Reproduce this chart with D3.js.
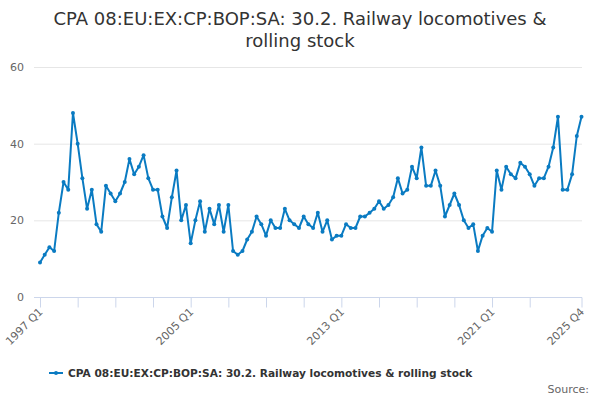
<!DOCTYPE html>
<html>
<head>
<meta charset="utf-8">
<script src="https://cdn.jsdelivr.net/npm/d3@7"></script>
<style>
  body { margin: 0; background: #fff; }
  svg { font-family: "DejaVu Sans", sans-serif; }
</style>
</head>
<body>
<script>
// quarterly values, 1997 Q1 .. 2025 Q4
var years = d3.range(1997, 2026);
var quarters = ["Q1", "Q2", "Q3", "Q4"];
var categories = [];
years.forEach(function (y) { quarters.forEach(function (q) { categories.push(y + " " + q); }); });

var values = [
  9, 11, 13, 12, 22, 30, 28, 48, 40, 31, 23, 28, 19, 17, 29, 27,
  25, 27, 30, 36, 32, 34, 37, 31, 28, 28, 21, 18, 26, 33, 20, 24,
  14, 20, 25, 17, 23, 19, 24, 17, 24, 12, 11, 12, 15, 17, 21, 19,
  16, 20, 18, 18, 23, 20, 19, 18, 21, 19, 18, 22, 17, 20, 15, 16,
  16, 19, 18, 18, 21, 21, 22, 23, 25, 23, 24, 26, 31, 27, 28, 34,
  31, 39, 29, 29, 33, 29, 21, 24, 27, 24, 20, 18, 19, 12, 16, 18,
  17, 33, 28, 34, 32, 31, 35, 34, 32, 29, 31, 31, 34, 39, 47, 28,
  28, 32, 42, 47
];

var yTicks = [0, 20, 40, 60];
var xLabels = ["1997 Q1", "2005 Q1", "2013 Q1", "2021 Q1", "2025 Q4"];
var seriesName = "CPA 08:EU:EX:CP:BOP:SA: 30.2. Railway locomotives & rolling stock";

var width = 600, height = 400;
var svg = d3.select("body").append("svg")
  .attr("width", width)
  .attr("height", height);

var x = d3.scalePoint().domain(categories).range([40, 581.5]);
var y = d3.scaleLinear().domain([0, 60]).range([297, 67]);

// title
var title = svg.append("text")
  .attr("text-anchor", "middle")
  .attr("fill", "#333")
  .style("font-size", "18px");
title.append("tspan").attr("x", 300).attr("y", 25).text("CPA 08:EU:EX:CP:BOP:SA: 30.2. Railway locomotives &");
title.append("tspan").attr("x", 300).attr("y", 47).text("rolling stock");

// gridlines
svg.append("g").selectAll("line")
  .data(yTicks.filter(function (d) { return d > 0; }))
  .enter().append("line")
  .attr("x1", 34).attr("x2", 582)
  .attr("y1", function (d) { return y(d) + 0.5; })
  .attr("y2", function (d) { return y(d) + 0.5; })
  .attr("stroke", "#e6e6e6");

// y axis labels
svg.append("g").selectAll("text")
  .data(yTicks)
  .enter().append("text")
  .attr("x", 24)
  .attr("y", function (d) { return y(d) + 4; })
  .attr("text-anchor", "end")
  .attr("fill", "#666")
  .style("font-size", "11px")
  .text(function (d) { return d; });

// x axis
var tickCats = categories.filter(function (c, i) { return i % 8 == 0 && i < 112; });
tickCats.push(categories[categories.length - 1]);

var xAxis = d3.axisBottom(x)
  .tickValues(tickCats)
  .tickSize(10)
  .tickFormat(function (d) { return xLabels.indexOf(d) >= 0 ? d : ""; });

var gx = svg.append("g")
  .attr("transform", "translate(0,297.5)")
  .call(xAxis);
gx.select(".domain").attr("d", "M34,0H582").attr("stroke", "#ccd6eb");
gx.selectAll(".tick line").attr("stroke", "#ccd6eb");
gx.selectAll(".tick text")
  .attr("fill", "#666")
  .style("font-size", "11px")
  .style("font-family", "DejaVu Sans, sans-serif")
  .attr("text-anchor", "end")
  .attr("dy", null)
  .attr("y", 0)
  .attr("transform", "translate(3,15) rotate(-45)");

// series line
var line = d3.line()
  .x(function (d, i) { return x(categories[i]); })
  .y(function (d) { return y(d); });

svg.append("path")
  .datum(values)
  .attr("d", line)
  .attr("fill", "none")
  .attr("stroke", "#0a7bc2")
  .attr("stroke-width", 2)
  .attr("stroke-linejoin", "round");

svg.append("g").selectAll("circle")
  .data(values)
  .enter().append("circle")
  .attr("cx", function (d, i) { return x(categories[i]); })
  .attr("cy", function (d) { return y(d); })
  .attr("r", 2)
  .attr("fill", "#0a7bc2");

// legend
var lg = svg.append("g").attr("transform", "translate(49,373)");
lg.append("line").attr("x1", 0).attr("x2", 14).attr("y1", 0).attr("y2", 0)
  .attr("stroke", "#0a7bc2").attr("stroke-width", 2);
lg.append("circle").attr("cx", 7).attr("cy", 0).attr("r", 2).attr("fill", "#0a7bc2");
lg.append("text")
  .attr("x", 19).attr("y", 4)
  .attr("fill", "#333")
  .style("font-size", "10.6px")
  .style("font-weight", "bold")
  .text(seriesName);

svg.append("text")
  .attr("x", 589).attr("y", 393)
  .attr("text-anchor", "end")
  .attr("fill", "#666")
  .style("font-size", "11px")
  .text("Source:");
</script>
</body>
</html>
